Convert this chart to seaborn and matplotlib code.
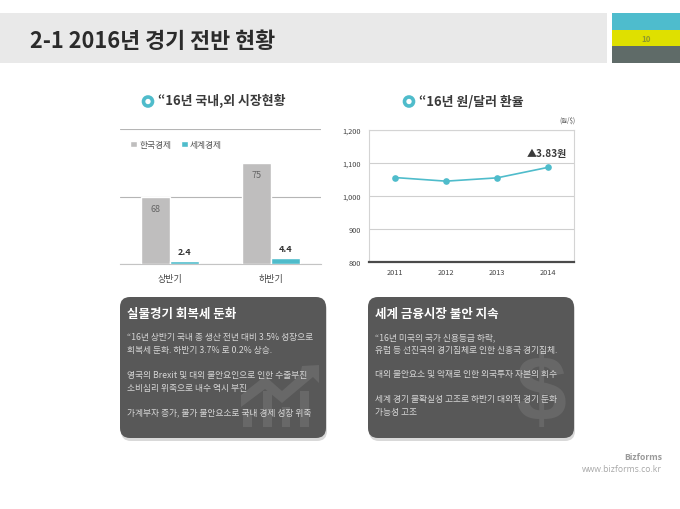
import matplotlib
matplotlib.use("Agg")
import matplotlib.pyplot as plt
from matplotlib.patches import Rectangle, FancyBboxPatch, Circle, Polygon
import pandas as pd
import seaborn as sns

sns.set_theme(style="white")
plt.rcParams['font.family'] = ['Noto Sans CJK KR', 'DejaVu Sans']

# ---- data ----
half_labels = ["상반기", "하반기"]
korea_heights = [50, 75]
korea_labels = ["68", "75"]
world_values = [2.4, 4.4]
series_names = ["한국경제", "세계경제"]

years = ["2011", "2012", "2013", "2014"]
fx_rates = [1056, 1045, 1055, 1087]
fx_ticks = [800, 900, 1000, 1100, 1200]

GRAY, TEAL, BOX = "#bfbebe", "#4fbccb", "#585858"
W, H = 680, 510

fig = plt.figure(figsize=(6.8, 5.1), dpi=100, facecolor="white")
bg = fig.add_axes([0, 0, 1, 1], zorder=0)
bg.set_xlim(0, W); bg.set_ylim(H, 0); bg.axis("off")

def rect_axes(x0, y0, x1, y1):
    return fig.add_axes([x0 / W, 1 - y1 / H, (x1 - x0) / W, (y1 - y0) / H], zorder=2, facecolor="none")

# header
bg.add_patch(Rectangle((0, 14), 607, 50, color="#e9e9e9", lw=0))
bg.add_patch(Rectangle((612, 14), 68, 17, color="#4ebccd", lw=0))
bg.add_patch(Rectangle((612, 31), 68, 16, color="#dfe000", lw=0))
bg.add_patch(Rectangle((612, 47), 68, 17, color="#5f6b68", lw=0))
bg.text(646, 40, "10", fontsize=5.8, fontweight="bold", color="#8f9a2a", ha="center", va="center")
bg.text(30, 41, "2-1 2016년 경기 전반 현황", fontsize=15.7, fontweight="bold", color="#2b2b2b", va="center")

# section titles
for cx, tx, label in [(148, 158, "“16년 국내,외 시장현황"), (409, 419, "“16년 원/달러 환율")]:
    bg.add_patch(Circle((cx, 102.5), 4.5, fc="white", ec=TEAL, lw=2.6))
    bg.text(tx, 101, label, fontsize=9.3, fontweight="bold", color="#3a3a3a", va="center")

# bar chart
df = pd.DataFrame({
    "half": half_labels * 2,
    "value": korea_heights + world_values,
    "series": [series_names[0]] * 2 + [series_names[1]] * 2,
})
ax = rect_axes(120, 130, 321, 265)
sns.barplot(data=df, x="half", y="value", hue="series", palette=[GRAY, TEAL],
            width=0.58, gap=0, saturation=1, ax=ax, zorder=3)
ax.set_xlim(-0.5, 1.5); ax.set_ylim(0, 100)
ax.set_yticks([0, 50, 100]); ax.set_yticklabels([])
ax.set_xlabel(""); ax.set_ylabel("")
ax.grid(axis="y", color="#b5b5b5", lw=0.8); ax.set_axisbelow(True)
ax.tick_params(axis="both", length=0)
ax.tick_params(axis="x", labelsize=6.5, labelcolor="#444444", pad=7)
for s in ["top", "left", "right"]:
    ax.spines[s].set_visible(False)
ax.spines["bottom"].set_color("#c4c4c4")
ax.spines["bottom"].set_linewidth(0.8)
for c, labs, col, w, off in [(ax.containers[0], korea_labels, "#666666", "normal", -12),
                             (ax.containers[1], ["2.4", "4.4"], "#333333", "bold", 9.5)]:
    for bar, lab in zip(c, labs):
        ax.annotate(lab, (bar.get_x() + bar.get_width() / 2, bar.get_height()),
                    xytext=(0, off * 0.72), textcoords="offset points", ha="center", va="center",
                    fontsize=6.5, color=col, fontweight=w)
ax.legend(loc="upper left", bbox_to_anchor=(0.02, 0.965), ncol=2, frameon=False, fontsize=6.3,
          handlelength=0.8, handleheight=0.7, handletextpad=0.3, columnspacing=1.0,
          labelcolor="#555555", borderpad=0.2)

# line chart
ax2 = rect_axes(369, 131, 574, 263)
line_df = pd.DataFrame({"year": years, "rate": fx_rates})
sns.lineplot(data=line_df, x="year", y="rate", color=TEAL, lw=1.2, marker="o", markersize=4.8,
             markeredgewidth=0, ax=ax2, sort=False, zorder=3)
ax2.set_xlim(-0.5, 3.5); ax2.set_ylim(800, 1200)
ax2.set_yticks(fx_ticks); ax2.set_yticklabels([f"{v:,}" for v in fx_ticks])
ax2.set_xlabel(""); ax2.set_ylabel("")
ax2.grid(axis="y", color="#cfcfcf", lw=0.8); ax2.set_axisbelow(True)
ax2.tick_params(axis="both", length=0, labelsize=5.3, labelcolor="#444444")
ax2.tick_params(axis="x", pad=4.5); ax2.tick_params(axis="y", pad=6)
for s in ["top", "left", "right"]:
    ax2.spines[s].set_color("#d4d4d4"); ax2.spines[s].set_linewidth(0.8)
ax2.spines["bottom"].set_color("#4a4a4a"); ax2.spines["bottom"].set_linewidth(1.6)
ax2.annotate("▲3.83원", (3, fx_rates[3]), xytext=(-1, 10), textcoords="offset points",
             ha="center", va="center", fontsize=7.2, fontweight="bold", color="#3a3a3a")
bg.text(576, 121, "(원/$)", fontsize=4.5, color="#555555", ha="right", va="center")

# text panels
panels = [
    (120, "실물경기 회복세 둔화", 127, [
        (338, "“16년 상반기 국내 총 생산 전년 대비 3.5% 성장으로"),
        (351, "회복세 둔화. 하반기 3.7% 로 0.2% 상승."),
        (376, "영국의 Brexit 및 대외 불안요인으로 인한 수출부진"),
        (389, "소비심리 위축으로 내수 역시 부진"),
        (413, "가계부자 증가, 물가 불안요소로 국내 경제 성장 위축"),
    ]),
    (368, "세계 금융시장 불안 지속", 375, [
        (338, "“16년 미국의 국가 신용등급 하락,"),
        (351, "유럽 등 선진국의 경기침체로 인한 신흥국 경기침체."),
        (375, "대외 불안요소 및 악재로 인한 외국투자 자본의 회수"),
        (400, "세계 경기 불확실성 고조로 하반기 대외적 경기 둔화"),
        (413, "가능성 고조"),
    ]),
]
for x0, head, tx, lines in panels:
    bg.add_patch(FancyBboxPatch((x0 + 9, 309), 190, 125, boxstyle="round,pad=8,rounding_size=10",
                                fc="#d9d9d9", ec="none", zorder=1))
    bg.add_patch(FancyBboxPatch((x0 + 8, 306), 190, 125, boxstyle="round,pad=8,rounding_size=10",
                                fc=BOX, ec="none", zorder=2))

# watermark icons inside the panels
ICON = "#686868"
for bx0, bx1, top in [(243, 252, 410), (263, 272, 392), (282, 290, 408), (300, 309, 392)]:
    bg.add_patch(Rectangle((bx0, top), bx1 - bx0, 428 - top, fc=ICON, ec="none", zorder=3))
bg.add_patch(Polygon([(241, 396), (265, 377), (282, 392), (300, 376), (302, 367), (319, 366),
                      (319, 384), (313, 378), (282, 404), (265, 390), (241, 408)],
                     fc=ICON, ec="none", zorder=3))
bg.text(541, 396, "$", fontsize=66, fontweight="bold", color="#676767", ha="center", va="center",
        family="Liberation Sans", zorder=3)

for x0, head, tx, lines in panels:
    bg.text(tx, 315, head, fontsize=9.0, fontweight="bold", color="white", va="center", zorder=4)
    for y, line in lines:
        bg.text(tx, y, line, fontsize=6.3, color="#d6d6d6", va="center", zorder=4)

# footer
bg.text(662, 458, "Bizforms", fontsize=6.2, fontweight="bold", color="#9a9a9a", ha="right", va="center",
        family="Open Sans")
bg.text(662, 470, "www.bizforms.co.kr", fontsize=6.2, color="#a8a8a8", ha="right", va="center",
        family="Open Sans")

fig.savefig("out.png", dpi=100, facecolor="white")
